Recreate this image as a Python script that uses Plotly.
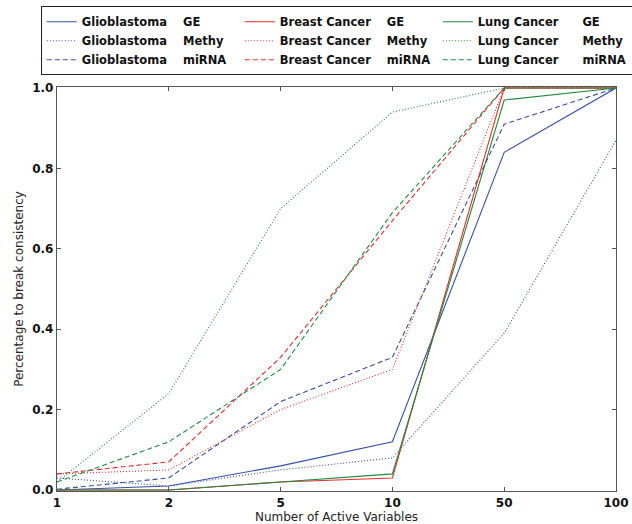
import plotly.graph_objects as go

x_labels = ["1", "2", "5", "10", "50", "100"]

glio_ge = [0.0, 0.01, 0.06, 0.12, 0.84, 1.0]
glio_methy = [0.03, 0.01, 0.05, 0.08, 0.39, 0.87]
glio_mirna = [0.002, 0.03, 0.22, 0.33, 0.91, 1.0]

breast_ge = [0.0, 0.0, 0.02, 0.03, 1.0, 1.0]
breast_methy = [0.04, 0.05, 0.20, 0.30, 1.0, 1.0]
breast_mirna = [0.04, 0.07, 0.33, 0.67, 1.0, 1.0]

lung_ge = [0.0, 0.0, 0.02, 0.04, 0.97, 1.0]
lung_methy = [0.02, 0.24, 0.70, 0.94, 1.0, 1.0]
lung_mirna = [0.02, 0.12, 0.30, 0.69, 1.0, 1.0]

BLUE = "#3550a6"
RED = "#ee2a2a"
GREEN = "#1e8a3e"

NB = "\u00a0"
series = [
    # (name, values, color, dash, legend rank)
    ("Glioblastoma" + NB * 4 + "GE", glio_ge, BLUE, "solid", 1),
    ("Glioblastoma" + NB * 4 + "Methy", glio_methy, BLUE, "1px,2px", 4),
    ("Glioblastoma" + NB * 4 + "miRNA", glio_mirna, BLUE, "5px,3px", 7),
    ("Breast Cancer" + NB * 4 + "GE", breast_ge, RED, "solid", 2),
    ("Breast Cancer" + NB * 4 + "Methy", breast_methy, RED, "1px,2px", 5),
    ("Breast Cancer" + NB * 4 + "miRNA", breast_mirna, RED, "5px,3px", 8),
    ("Lung Cancer" + NB * 6 + "GE", lung_ge, GREEN, "solid", 3),
    ("Lung Cancer" + NB * 6 + "Methy", lung_methy, GREEN, "1px,2px", 6),
    ("Lung Cancer" + NB * 6 + "miRNA", lung_mirna, GREEN, "5px,3px", 9),
]

fig = go.Figure()
for name, vals, color, dash, rank in series:
    fig.add_trace(go.Scatter(
        x=x_labels, y=vals, mode="lines", name=name,
        line=dict(color=color, width=1.1, dash=dash),
        legendrank=rank,
    ))

axis_common = dict(
    showgrid=False, zeroline=False,
    showline=True, linecolor="#555555", linewidth=1.2, mirror="ticks",
    ticks="inside", ticklen=4, tickcolor="#555555",
    tickfont=dict(family="DejaVu Sans", size=12, color="#111111", weight="bold"),
    layer="below traces",
)

fig.update_layout(
    width=632, height=524,
    margin=dict(l=57, r=16, t=87, b=33, autoexpand=False),
    paper_bgcolor="white", plot_bgcolor="white",
    font=dict(family="DejaVu Sans", color="#222222"),
    hovermode=False,
    xaxis=dict(
        type="category", range=[0, 5],
        title=dict(text="Number of Active Variables", font=dict(size=12), standoff=5),
        **axis_common,
    ),
    yaxis=dict(
        range=[-0.0025, 1.0025], tickvals=[0, 0.2, 0.4, 0.6, 0.8, 1.0],
        ticktext=["0.0", "0.2", "0.4", "0.6", "0.8", "1.0"],
        title=dict(text="Percentage to break consistency", font=dict(size=12), standoff=6),
        **axis_common,
    ),
    legend=dict(
        orientation="h", x=-0.029, xanchor="left", y=1.2, yanchor="top",
        entrywidth=153, entrywidthmode="pixels",
        bordercolor="#222222", borderwidth=1, bgcolor="white",
        font=dict(family="DejaVu Sans", size=11.5, color="#111111", weight="bold"),
        tracegroupgap=0,
    ),
    showlegend=True,
)

fig.write_html(
    "out.html",
    config={"displayModeBar": False, "staticPlot": True},
    post_script="document.body.style.margin='0';document.body.style.padding='0';",
)
